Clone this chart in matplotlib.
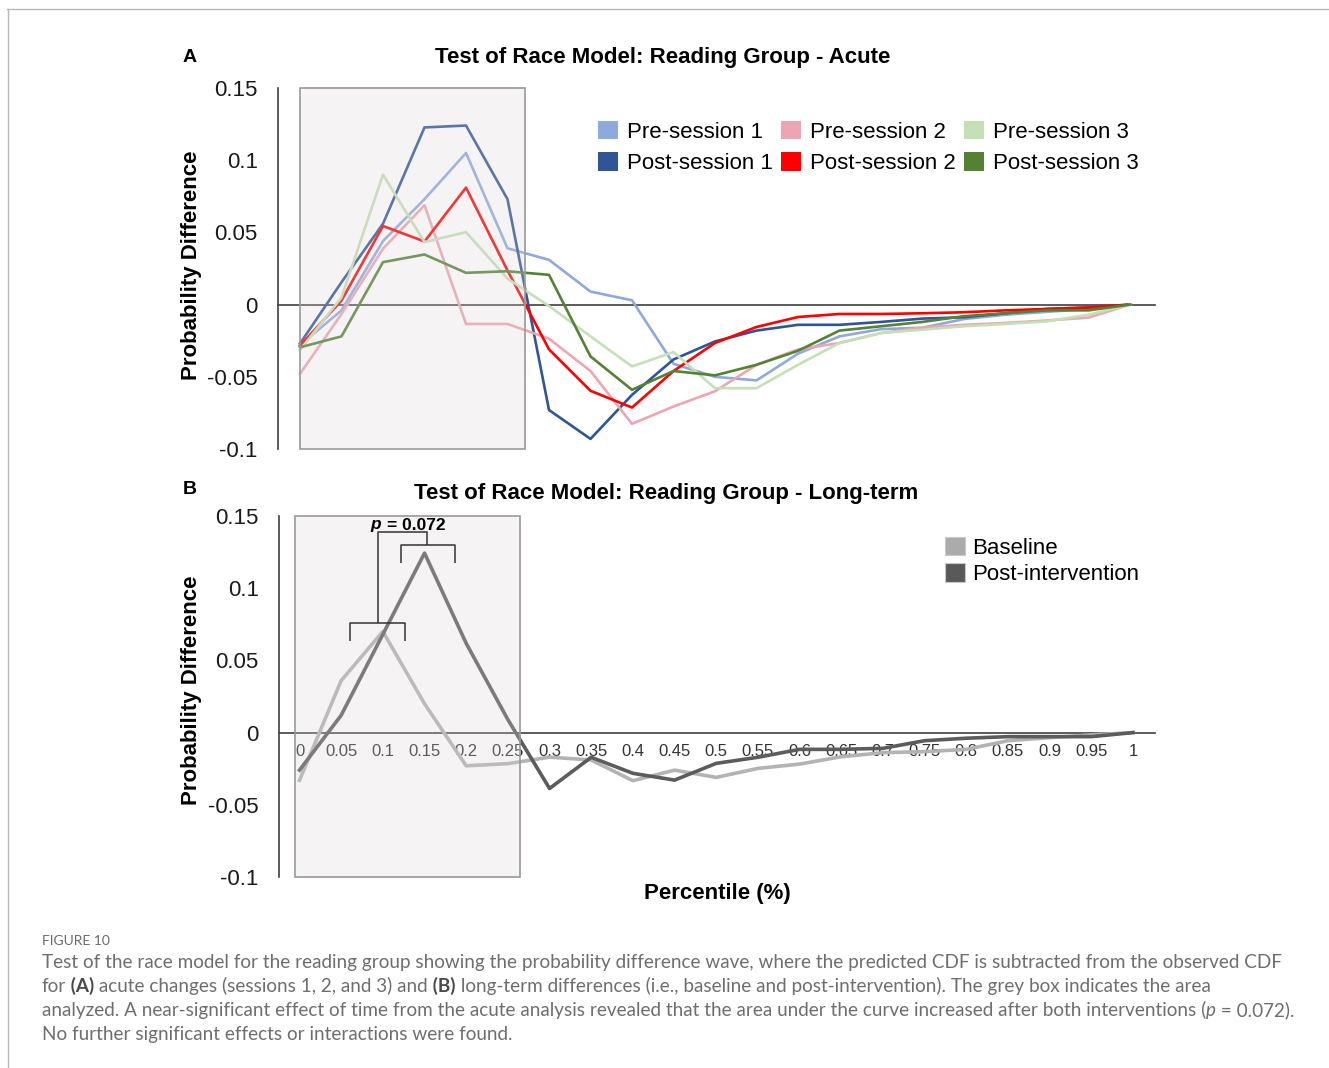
import matplotlib
matplotlib.use('Agg')
import matplotlib.pyplot as plt
from matplotlib.patches import Rectangle, Patch
from matplotlib.lines import Line2D

W, H, DPI = 1329, 1068, 100

# ---------------- data ----------------
percentiles = [0, 0.05, 0.1, 0.15, 0.2, 0.25, 0.3, 0.35, 0.4, 0.45, 0.5,
               0.55, 0.6, 0.65, 0.7, 0.75, 0.8, 0.85, 0.9, 0.95, 1]
xtick_labels = ['0', '0.05', '0.1', '0.15', '0.2', '0.25', '0.3', '0.35', '0.4',
                '0.45', '0.5', '0.55', '0.6', '0.65', '0.7', '0.75', '0.8',
                '0.85', '0.9', '0.95', '1']
yticks = [-0.1, -0.05, 0, 0.05, 0.1, 0.15]
ytick_labels = ['-0.1', '-0.05', '0', '0.05', '0.1', '0.15']

pre_session_1 = [-0.028, -0.004, 0.044, 0.073, 0.105, 0.039, 0.031, 0.009, 0.003, -0.041, -0.050,
                 -0.0525, -0.034, -0.022, -0.017, -0.016, -0.010, -0.007, -0.005, -0.003, 0.0]
post_session_1 = [-0.027, 0.0155, 0.056, 0.1227, 0.124, 0.073, -0.073, -0.093, -0.0625, -0.038, -0.0255,
                  -0.018, -0.014, -0.014, -0.012, -0.0097, -0.0088, -0.006, -0.003, -0.002, 0.0]
pre_session_2 = [-0.048, -0.0065, 0.0387, 0.0688, -0.0134, -0.0134, -0.0236, -0.046, -0.0826, -0.0706, -0.060,
                 -0.0417, -0.031, -0.0266, -0.0197, -0.016, -0.014, -0.0127, -0.011, -0.009, 0.0]
post_session_2 = [-0.0285, 0.0028, 0.0544, 0.0437, 0.081, 0.0236, -0.031, -0.0597, -0.0713, -0.046, -0.0266,
                  -0.0155, -0.0086, -0.0065, -0.0065, -0.006, -0.0053, -0.004, -0.003, -0.002, 0.0]
pre_session_3 = [-0.0315, 0.005, 0.090, 0.0433, 0.0502, 0.018, -0.001, -0.022, -0.0428, -0.0329, -0.0579,
                 -0.0579, -0.0417, -0.0266, -0.0197, -0.0174, -0.015, -0.0134, -0.0116, -0.007, 0.0]
post_session_3 = [-0.0296, -0.022, 0.0294, 0.0347, 0.022, 0.0231, 0.0206, -0.0359, -0.059, -0.046, -0.049,
                  -0.0417, -0.032, -0.018, -0.015, -0.012, -0.008, -0.006, -0.004, -0.004, 0.0]

baseline = [-0.033, 0.036, 0.070, 0.020, -0.023, -0.0215, -0.017, -0.019, -0.0333, -0.026, -0.031,
            -0.0248, -0.0218, -0.0167, -0.0139, -0.0132, -0.0116, -0.0056, -0.0035, -0.0016, 0.0]
post_intervention = [-0.026, 0.012, 0.068, 0.1243, 0.0618, 0.009, -0.0387, -0.0171, -0.0282, -0.0329, -0.0213,
                     -0.0171, -0.0116, -0.0116, -0.0109, -0.0056, -0.0039, -0.0028, -0.0028, -0.0028, 0.0]

acute_labels = ['Pre-session 1', 'Post-session 1', 'Pre-session 2',
                'Post-session 2', 'Pre-session 3', 'Post-session 3']
long_labels = ['Baseline', 'Post-intervention']

# ---------------- styles ----------------
acute_colors = ['#8eaadc', '#2f5597', '#eda6b1', '#ff0000', '#c5e0b4', '#548235']
long_colors = ['#b3b3b3', '#5c5c5c']
legend_long_colors = ['#ababab', '#595959']
CHART_FONT = 'Liberation Sans'
CAP_FONT = 'Lato'
BOX_FACE = (0.85, 0.83, 0.845, 0.26)
BOX_EDGE = '#9a9a9a'
AXIS_COL = '#404040'
FS = 16

plt.rcParams['font.family'] = [CHART_FONT, 'DejaVu Sans']

fig = plt.figure(figsize=(W / DPI, H / DPI), dpi=DPI)
fig.patch.set_facecolor('white')


def fx(px):
    return px / W


def fy(py):
    return 1 - py / H


def fbox(left, top, right, bottom):
    return [left / W, 1 - bottom / H, (right - left) / W, (bottom - top) / H]


def style_axis(ax, xlim, show_xlabels):
    ax.set_xlim(*xlim)
    ax.set_ylim(-0.1, 0.15)
    ax.patch.set_visible(False)
    for s in ('top', 'right'):
        ax.spines[s].set_visible(False)
    ax.spines['left'].set_color(AXIS_COL)
    ax.spines['left'].set_linewidth(1.2)
    ax.spines['bottom'].set_position(('data', 0))
    ax.spines['bottom'].set_color(AXIS_COL)
    ax.spines['bottom'].set_linewidth(1.2)
    ax.set_yticks(yticks)
    ax.set_yticklabels(ytick_labels)
    ax.tick_params(axis='y', length=0, pad=14.5, labelsize=FS, labelcolor='#1a1a1a')
    if show_xlabels:
        ax.set_xticks(percentiles)
        ax.set_xticklabels(xtick_labels)
        ax.tick_params(axis='x', length=0, pad=8, labelsize=12, labelcolor='#333333')
    else:
        ax.set_xticks([])


# ---------------- Panel A ----------------
axA = fig.add_axes(fbox(278, 88, 1155, 449))
style_axis(axA, ((278 - 300) / 830, (1155 - 300) / 830), False)
for series, col in zip([pre_session_1, post_session_1, pre_session_2,
                        post_session_2, pre_session_3, post_session_3], acute_colors):
    axA.plot(percentiles, series, color=col, lw=1.9, zorder=3)
axA.add_patch(Rectangle((0, -0.1), 0.271, 0.25, facecolor=BOX_FACE, edgecolor=BOX_EDGE,
                        lw=1.2, zorder=10, clip_on=False))

handlesA = [Patch(facecolor=c, edgecolor='none', label=l) for c, l in zip(acute_colors, acute_labels)]
fig.legend(handles=handlesA, ncol=3, loc='upper left', bbox_to_anchor=(fx(598), fy(121)),
           bbox_transform=fig.transFigure, frameon=False, fontsize=FS,
           handlelength=0.9, handleheight=0.9, handletextpad=0.4, columnspacing=0.38,
           labelspacing=0.43, borderpad=0, borderaxespad=0)

fig.text(fx(190), fy(57), 'A', ha='center', va='center', fontsize=14, fontweight='bold')
fig.text(fx(663), fy(57), 'Test of Race Model: Reading Group - Acute', ha='center', va='center',
         fontsize=FS, fontweight='bold')
fig.text(fx(192), fy(265), 'Probability Difference', rotation=90, ha='center', va='center',
         fontsize=FS, fontweight='bold')

# ---------------- Panel B ----------------
axB = fig.add_axes(fbox(279, 516, 1155, 877))
style_axis(axB, ((279 - 299.5) / 833.5, (1155 - 299.5) / 833.5), True)
for series, col in zip([baseline, post_intervention], long_colors):
    axB.plot(percentiles, series, color=col, lw=2.6, zorder=3)
axB.add_patch(Rectangle((-0.0054, -0.1), 0.27, 0.25, facecolor=BOX_FACE, edgecolor=BOX_EDGE,
                        lw=1.2, zorder=10, clip_on=False))

# significance brackets (annotation)
br = dict(color='#333333', lw=1.1, zorder=12, clip_on=False, solid_capstyle='butt')
axB.plot([0.061, 0.061, 0.126, 0.126], [0.0634, 0.0762, 0.0762, 0.0634], **br)
axB.plot([0.122, 0.122, 0.1866, 0.1866], [0.1174, 0.130, 0.130, 0.1174], **br)
axB.plot([0.0945, 0.0945, 0.1533, 0.1533], [0.0762, 0.1387, 0.1387, 0.130], **br)
fig.text(fx(370), fy(525), 'p', ha='left', va='center', fontsize=12.5, fontweight='bold',
         fontstyle='italic', zorder=12)
fig.text(fx(387), fy(525), '= 0.072', ha='left', va='center', fontsize=12.5, fontweight='bold', zorder=12)

handlesB = [Patch(facecolor=c, edgecolor='#c8c8c8', lw=0.8, label=l)
            for c, l in zip(legend_long_colors, long_labels)]
fig.legend(handles=handlesB, ncol=1, loc='upper left', bbox_to_anchor=(fx(945), fy(537)),
           bbox_transform=fig.transFigure, frameon=False, fontsize=FS,
           handlelength=0.9, handleheight=0.9, handletextpad=0.32,
           labelspacing=0.2, borderpad=0, borderaxespad=0)

fig.text(fx(190), fy(489), 'B', ha='center', va='center', fontsize=14, fontweight='bold')
fig.text(fx(666), fy(494), 'Test of Race Model: Reading Group - Long-term', ha='center', va='center',
         fontsize=FS, fontweight='bold')
fig.text(fx(192), fy(690), 'Probability Difference', rotation=90, ha='center', va='center',
         fontsize=FS, fontweight='bold')
fig.text(fx(717), fy(894), 'Percentile (%)', ha='center', va='center', fontsize=FS, fontweight='bold')

# ---------------- frame ----------------
fig.add_artist(Line2D([fx(7), 1.0], [fy(8.5), fy(8.5)], transform=fig.transFigure,
                      color='#b8b8b8', lw=1.0))
fig.add_artist(Line2D([fx(7.5), fx(7.5)], [0.0, fy(8.5)], transform=fig.transFigure,
                      color='#b8b8b8', lw=1.0))

# ---------------- caption ----------------
CAP_FS = 13.6
CAP_COL = '#6e6e6e'
renderer = fig.canvas.get_renderer()

fig.text(fx(42), fy(945), 'FIGURE 10', ha='left', va='baseline', fontsize=10,
         family=[CAP_FONT, 'DejaVu Sans'], color='#6a6a6a')

caption_lines = [
    [('Test of the race model for the reading group showing the probability difference wave, '
      'where the predicted CDF is subtracted from the observed CDF', 'n')],
    [('for', 'n'), (' (A)', 'b'), (' acute changes (sessions 1, 2, and 3) and', 'n'), (' (B)', 'b'),
     (' long-term differences (i.e., baseline and post-intervention). The grey box indicates the area', 'n')],
    [('analyzed. A near-significant effect of time from the acute analysis revealed that the area '
      'under the curve increased after both interventions (', 'n'), ('p', 'i'), (' = 0.072).', 'n')],
    [('No further significant effects or interactions were found.', 'n')],
]
baselines = [968, 992, 1016, 1040]
for segs, bl in zip(caption_lines, baselines):
    x = 42
    for txt, st in segs:
        t = fig.text(fx(x), fy(bl), txt, ha='left', va='baseline', fontsize=CAP_FS,
                     family=[CAP_FONT, 'DejaVu Sans'],
                     color=('#4a4a4a' if st == 'b' else CAP_COL),
                     fontweight=('bold' if st == 'b' else 'normal'),
                     fontstyle=('italic' if st == 'i' else 'normal'))
        x = t.get_window_extent(renderer).x1

fig.savefig('out.png', dpi=DPI, facecolor='white')
